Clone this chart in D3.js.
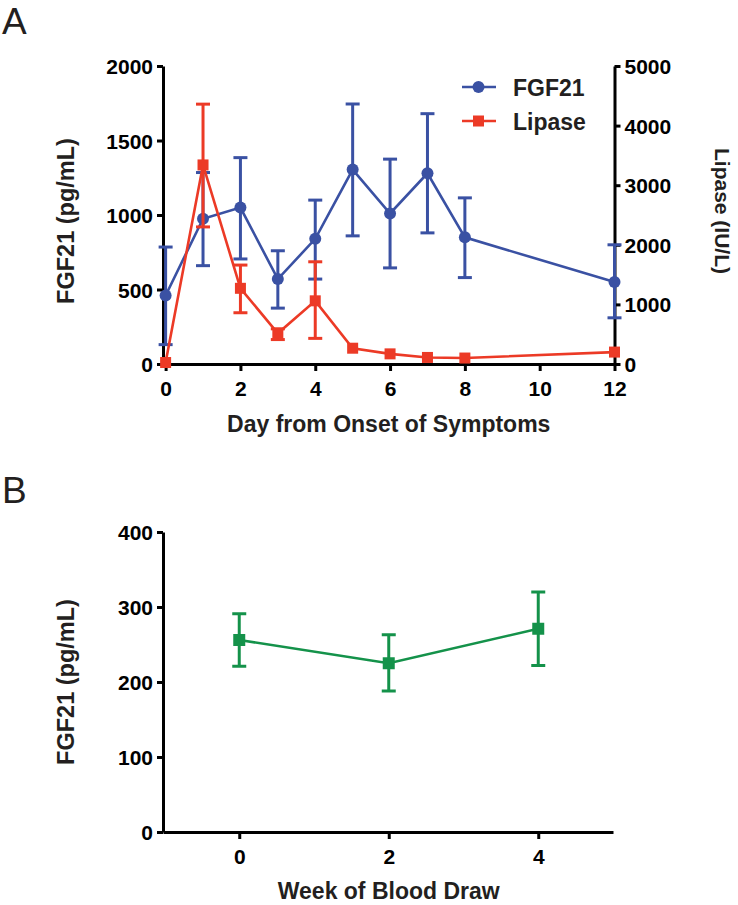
<!DOCTYPE html>
<html><head><meta charset="utf-8">
<script src="https://cdnjs.cloudflare.com/ajax/libs/d3/7.8.5/d3.min.js"></script>
<style>
html,body{margin:0;padding:0;background:#fff;}
svg{display:block;font-family:"Liberation Sans",Arial,Helvetica,sans-serif;}
</style></head>
<body>
<svg id="chart" width="738" height="905"></svg>
<script>
// ---- Panel A data ----
const daysA = [0, 1, 2, 3, 4, 5, 6, 7, 8, 12];
const fgf21Mean = [460, 975, 1050, 570, 840, 1305, 1010, 1280, 850, 550];
const fgf21Upper = [785, 1285, 1385, 760, 1100, 1745, 1375, 1680, 1115, 800];
const fgf21Lower = [130, 660, 705, 375, 570, 860, 645, 880, 580, 310];
const lipaseMean = [25, 3340, 1270, 515, 1060, 265, 170, 110, 100, 200];
const lipaseUpper = [25, 4360, 1660, 590, 1715, 265, 170, 110, 100, 200];
const lipaseLower = [25, 2300, 860, 410, 430, 265, 170, 110, 100, 200];
const xTicksA = [0, 2, 4, 6, 8, 10, 12];
const yTicksLeftA = [0, 500, 1000, 1500, 2000];
const yTicksRightA = [0, 1000, 2000, 3000, 4000, 5000];
const legendLabels = ["FGF21", "Lipase"];
// ---- Panel B data ----
const weeksB = [0, 2, 4];
const fgfBMean = [256, 225, 271];
const fgfBUpper = [291, 263, 320];
const fgfBLower = [221, 188, 222];
const xTicksB = [0, 2, 4];
const yTicksB = [0, 100, 200, 300, 400];

const BLUE = "#3a51a3", RED = "#ec3a26", GREEN = "#14924a", INK = "#231f20";
const FONT = "'Liberation Sans',Arial,Helvetica,sans-serif";
const fmt = d3.format("d");
const svg = d3.select("#chart");

// ================= Panel A =================
const A = {left: 163, right: 614.5, top: 66, bottom: 364};
const xA = d3.scaleLinear().domain([-0.07, 12]).range([A.left, A.right]);
const yL = d3.scaleLinear().domain([0, 2000]).range([A.bottom, A.top]);
const yR = d3.scaleLinear().domain([0, 5000]).range([A.bottom, A.top]);

svg.append("text").attr("x", 2).attr("y", 34).attr("font-size", 37).attr("fill", INK)
  .style("font-family", FONT).text("A");

function styleAxis(g){
  g.select(".domain").attr("stroke", "#000").attr("stroke-width", 3);
  g.selectAll(".tick line").attr("stroke", "#000").attr("stroke-width", 3);
  g.selectAll(".tick text").attr("fill", "#000").attr("font-size", 21)
    .attr("font-weight", "bold").style("font-family", FONT);
}

const gxA = svg.append("g").attr("transform", `translate(0,${A.bottom})`)
  .call(d3.axisBottom(xA).tickValues(xTicksA).tickFormat(fmt).tickSizeInner(7).tickSizeOuter(0).tickPadding(10));
styleAxis(gxA);
const gyL = svg.append("g").attr("transform", `translate(${A.left},0)`)
  .call(d3.axisLeft(yL).tickValues(yTicksLeftA).tickFormat(fmt).tickSizeInner(6).tickSizeOuter(0).tickPadding(4));
styleAxis(gyL);
gyL.selectAll(".tick text").attr("dy", "0.36em");
const gyR = svg.append("g").attr("transform", `translate(${A.right},0)`)
  .call(d3.axisRight(yR).tickValues(yTicksRightA).tickFormat(fmt).tickSizeInner(6).tickSizeOuter(0).tickPadding(4));
styleAxis(gyR);
gyR.selectAll(".tick text").attr("dy", "0.36em");

// axis titles
svg.append("text").attr("x", (A.left + A.right) / 2).attr("y", 432)
  .attr("text-anchor", "middle").attr("font-size", 23).attr("font-weight", "bold").attr("fill", INK)
  .style("font-family", FONT).text("Day from Onset of Symptoms");
svg.append("text").attr("transform", `translate(74,${(A.top + A.bottom) / 2 + 6}) rotate(-90)`)
  .attr("text-anchor", "middle").attr("font-size", 23.5).attr("font-weight", "bold").attr("fill", INK)
  .style("font-family", FONT).text("FGF21 (pg/mL)");
svg.append("text").attr("transform", `translate(715,${(A.top + A.bottom) / 2 - 4}) rotate(90)`)
  .attr("text-anchor", "middle").attr("font-size", 21).attr("font-weight", "bold").attr("fill", INK)
  .style("font-family", FONT).text("Lipase (IU/L)");

function errorBars(g, xs, lo, hi, xS, yS, color, capW){
  xs.forEach((d, i) => {
    if (hi[i] === lo[i]) return;
    g.append("line").attr("x1", xS(d)).attr("x2", xS(d)).attr("y1", yS(lo[i])).attr("y2", yS(hi[i]))
      .attr("stroke", color).attr("stroke-width", 3);
    [lo[i], hi[i]].forEach(v => g.append("line").attr("x1", xS(d) - capW / 2).attr("x2", xS(d) + capW / 2)
      .attr("y1", yS(v)).attr("y2", yS(v)).attr("stroke", color).attr("stroke-width", 3));
  });
}

// FGF21 series
const gB = svg.append("g");
errorBars(gB, daysA, fgf21Lower, fgf21Upper, xA, yL, BLUE, 14);
gB.append("path").datum(daysA.map((d, i) => [d, fgf21Mean[i]]))
  .attr("d", d3.line().x(d => xA(d[0])).y(d => yL(d[1])))
  .attr("fill", "none").attr("stroke", BLUE).attr("stroke-width", 2.6);
gB.selectAll("circle").data(daysA).enter().append("circle")
  .attr("cx", d => xA(d)).attr("cy", (d, i) => yL(fgf21Mean[i])).attr("r", 6).attr("fill", BLUE);

// Lipase series
const gR = svg.append("g");
errorBars(gR, daysA, lipaseLower, lipaseUpper, xA, yR, RED, 14);
gR.append("path").datum(daysA.map((d, i) => [d, lipaseMean[i]]))
  .attr("d", d3.line().x(d => xA(d[0])).y(d => yR(d[1])))
  .attr("fill", "none").attr("stroke", RED).attr("stroke-width", 2.6);
gR.selectAll("rect").data(daysA).enter().append("rect")
  .attr("x", d => xA(d) - 5.5).attr("y", (d, i) => yR(lipaseMean[i]) - 5.5)
  .attr("width", 11).attr("height", 11).attr("fill", RED);

// legend
const leg = svg.append("g");
[BLUE, RED].forEach((c, i) => {
  const y = 87 + i * 34;
  leg.append("line").attr("x1", 462).attr("x2", 496).attr("y1", y).attr("y2", y).attr("stroke", c).attr("stroke-width", 2.6);
  if (i === 0) leg.append("circle").attr("cx", 478.5).attr("cy", y).attr("r", 6).attr("fill", c);
  else leg.append("rect").attr("x", 473).attr("y", y - 5.5).attr("width", 11).attr("height", 11).attr("fill", c);
  leg.append("text").attr("x", 513).attr("y", y + 8.5).attr("font-size", 23).attr("font-weight", "bold")
    .attr("fill", INK).style("font-family", FONT).text(legendLabels[i]);
});

// ================= Panel B =================
const B = {left: 163, right: 613, top: 532, bottom: 832};
const xB = d3.scaleLinear().domain([-1.02, 5]).range([B.left, B.right]);
const yB = d3.scaleLinear().domain([0, 400]).range([B.bottom, B.top]);

svg.append("text").attr("x", 2).attr("y", 503).attr("font-size", 37).attr("fill", INK)
  .style("font-family", FONT).text("B");

const gxB = svg.append("g").attr("transform", `translate(0,${B.bottom})`)
  .call(d3.axisBottom(xB).tickValues(xTicksB).tickFormat(fmt).tickSizeInner(7).tickSizeOuter(0).tickPadding(10));
styleAxis(gxB);
const gyB = svg.append("g").attr("transform", `translate(${B.left},0)`)
  .call(d3.axisLeft(yB).tickValues(yTicksB).tickFormat(fmt).tickSizeInner(6).tickSizeOuter(0).tickPadding(4));
styleAxis(gyB);
gyB.selectAll(".tick text").attr("dy", "0.36em");

svg.append("text").attr("x", xB(2)).attr("y", 899)
  .attr("text-anchor", "middle").attr("font-size", 23).attr("font-weight", "bold").attr("fill", INK)
  .style("font-family", FONT).text("Week of Blood Draw");
svg.append("text").attr("transform", `translate(74,${(B.top + B.bottom) / 2}) rotate(-90)`)
  .attr("text-anchor", "middle").attr("font-size", 23.5).attr("font-weight", "bold").attr("fill", INK)
  .style("font-family", FONT).text("FGF21 (pg/mL)");

const gG = svg.append("g");
errorBars(gG, weeksB, fgfBLower, fgfBUpper, xB, yB, GREEN, 14);
gG.append("path").datum(weeksB.map((d, i) => [d, fgfBMean[i]]))
  .attr("d", d3.line().x(d => xB(d[0])).y(d => yB(d[1])))
  .attr("fill", "none").attr("stroke", GREEN).attr("stroke-width", 2.6);
gG.selectAll("rect").data(weeksB).enter().append("rect")
  .attr("x", d => xB(d) - 6).attr("y", (d, i) => yB(fgfBMean[i]) - 6)
  .attr("width", 12).attr("height", 12).attr("fill", GREEN);
</script>
</body></html>
